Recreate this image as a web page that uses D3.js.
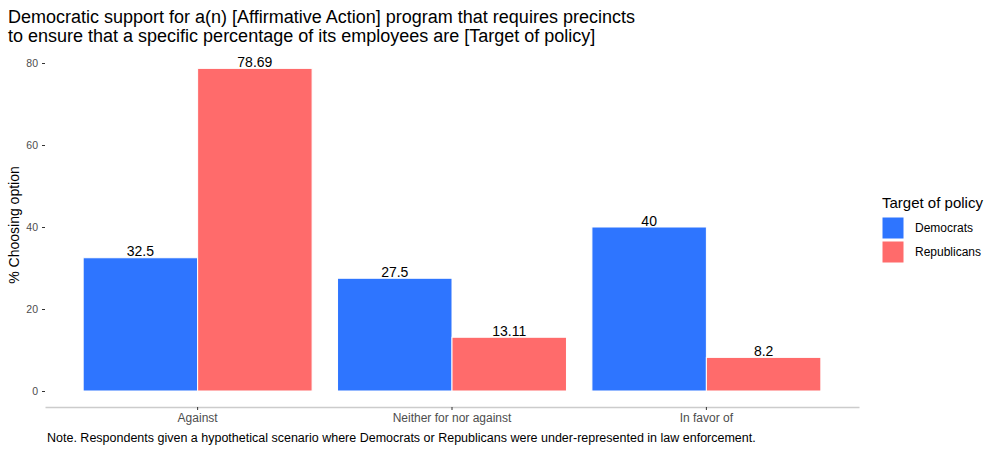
<html>
<head>
<meta charset="utf-8">
<script src="https://cdn.jsdelivr.net/npm/d3@7"></script>
<style>
  body { margin: 0; background: #fff; }
  text { font-family: "Liberation Sans", Arial, sans-serif; }
  .tick text { fill: #4d4d4d; font-size: 12px; }
</style>
</head>
<body>
<script>
var options = ['Against', 'Neither for nor against', 'In favor of'];
var targets = ['Democrats', 'Republicans'];
var democrats = [32.5, 27.5, 40];
var republicans = [78.69, 13.11, 8.2];
var yTicks = [0, 20, 40, 60, 80];
var colors = ['#2e75ff', '#ff6b6b'];

var width = 1000, height = 454;
var left = 45, right = 859, top = 50, bottom = 407;

var svg = d3.select('body').append('svg')
  .attr('width', width).attr('height', height);

var rows = [];
options.forEach(function(o, i) {
  rows.push({opt: o, target: targets[0], val: democrats[i]});
  rows.push({opt: o, target: targets[1], val: republicans[i]});
});

var x = d3.scaleBand().domain(options).range([left, right])
  .paddingInner(0.1).paddingOuter(0.15);
var xs = d3.scaleBand().domain(targets).range([0, x.bandwidth()]);
var y = d3.scaleLinear().domain([0, 80]).range([391, 63]);
var color = d3.scaleOrdinal().domain(targets).range(colors);

// bars
svg.selectAll('.bar').data(rows).enter().append('rect')
  .attr('class', 'bar')
  .attr('x', function(d) { return x(d.opt) + xs(d.target); })
  .attr('y', function(d) { return y(d.val); })
  .attr('width', xs.bandwidth())
  .attr('height', function(d) { return y(0) - y(d.val); })
  .attr('fill', function(d) { return color(d.target); })
  .attr('stroke', '#fff').attr('stroke-width', 1);

svg.selectAll('.lab').data(rows).enter().append('text')
  .attr('class', 'lab')
  .attr('x', function(d) { return x(d.opt) + xs(d.target) + xs.bandwidth() / 2; })
  .attr('y', function(d) { return y(d.val) - 1.5; })
  .attr('text-anchor', 'middle')
  .style('font-size', '14px').attr('fill', '#000')
  .text(function(d) { return d.val; });

// y axis
var yAxis = svg.append('g')
  .attr('transform', 'translate(' + left + ',0)')
  .call(d3.axisLeft(y).tickValues(yTicks).tickSize(3).tickPadding(4));
yAxis.select('.domain').remove();
yAxis.selectAll('.tick line').attr('stroke', '#333');
yAxis.selectAll('.tick text').style('font-size', '10.5px');

// x axis
var xAxis = svg.append('g')
  .attr('transform', 'translate(0,' + bottom + ')')
  .call(d3.axisBottom(x).tickSize(3).tickPadding(3).tickSizeOuter(0));
xAxis.select('.domain').attr('stroke', '#cccccc').attr('stroke-width', 1.5);
xAxis.selectAll('.tick line').attr('stroke', '#333');

// y title
svg.append('text')
  .attr('transform', 'translate(19,225) rotate(-90)')
  .attr('text-anchor', 'middle')
  .style('font-size', '14px')
  .text('% Choosing option');

// title
svg.append('text').attr('x', 8).attr('y', 23)
  .style('font-size', '18px')
  .text('Democratic support for a(n) [Affirmative Action] program that requires precincts');
svg.append('text').attr('x', 8).attr('y', 42)
  .style('font-size', '18px')
  .text('to ensure that a specific percentage of its employees are [Target of policy]');

// note
svg.append('text').attr('x', 47).attr('y', 442)
  .style('font-size', '12.5px')
  .text('Note. Respondents given a hypothetical scenario where Democrats or Republicans were under-represented in law enforcement.');

// legend
svg.append('text').attr('x', 882).attr('y', 208)
  .style('font-size', '15px')
  .text('Target of policy');
var lg = svg.selectAll('.leg').data(targets).enter().append('g')
  .attr('class', 'leg')
  .attr('transform', function(d, i) { return 'translate(882,' + (217 + i * 24) + ')'; });
lg.append('rect').attr('width', 22).attr('height', 22)
  .attr('fill', function(d) { return color(d); })
  .attr('stroke', '#fff');
lg.append('text').attr('x', 33).attr('y', 15)
  .style('font-size', '12px')
  .text(function(d) { return d; });
</script>
</body>
</html>
